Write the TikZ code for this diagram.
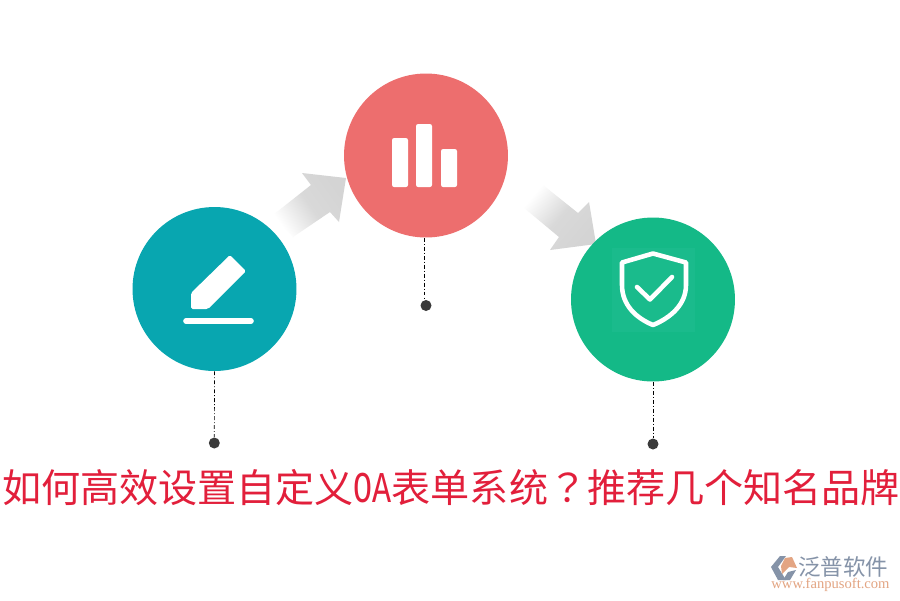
\documentclass[tikz,border=0pt]{standalone}
\usepackage{fontspec}
\setmainfont{Noto Sans CJK SC}
\newfontfamily\latinfont{Liberation Serif}
\newfontfamily\oafont[FakeStretch=0.72]{Liberation Mono}
\newfontfamily\markfont{Noto Sans CJK TC}
\definecolor{penteal}{HTML}{08A6B0}
\definecolor{barred}{HTML}{ED6E6E}
\definecolor{shieldgreen}{HTML}{14B987}
\definecolor{squaregreen}{HTML}{1ABB8C}
\definecolor{dotgrey}{HTML}{3A3A3A}
\definecolor{titlered}{HTML}{E21F3B}
\definecolor{logoblue}{HTML}{8593A8}
\definecolor{logoorange}{HTML}{E3A583}
\tikzset{
  bigcircle/.style={circle, minimum size=3.28cm, inner sep=0pt},
  enddot/.style={circle, fill=dotgrey, minimum size=0.22cm, inner sep=0pt},
  stem/.style={line width=0.4pt, dash pattern=on 2.2pt off 1.2pt on 0.5pt off 1.2pt, black},
  iconwhite/.style={fill=white, rounded corners=1pt},
}
\begin{document}
\begin{tikzpicture}[x=0.02cm, y=-0.02cm]
\useasboundingbox (0,0) rectangle (900,600);
\fill[white] (0,0) rectangle (900,600);
% grey arrows
\shade[bottom color=white, top color=black!17, middle color=black!15, shading angle=-55]
  (273,215) -- (311,185) -- (302,173) -- (346,178) -- (339,222) -- (330,212) -- (293,237) -- cycle;
\shade[bottom color=white, top color=black!17, middle color=black!15, shading angle=-130]
  (543,185) -- (578,213) -- (589,202) -- (596,244) -- (550,250) -- (559,237) -- (523,207) -- cycle;
% circles
\node[bigcircle, fill=penteal] (pen) at (214.5,289) {};
\node[bigcircle, fill=barred] (bars) at (426,155.5) {};
\node[bigcircle, fill=shieldgreen] (shield) at (653,299.5) {};
% dots
\node[enddot] (pendot) at (214.3,443) {};
\node[enddot] (barsdot) at (426,305.5) {};
\node[enddot] (shielddot) at (653,444) {};
\draw[stem] (pen.south) -- (pendot);
\draw[stem] ([xshift=-0.04cm]bars.south) -- ([xshift=-0.04cm]barsdot.north);
\draw[stem] (shield.south) -- (shielddot);
% pencil
\fill[iconwhite] (230,255) -- (246,271) -- (208,309) -- (191,309) -- (191,293) -- cycle;
\draw[white, line width=3.2pt, line cap=round] (186,321) -- (251,321);
% bar chart
\fill[white, rounded corners=1.2pt] (392,138) rectangle (408,187);
\fill[white, rounded corners=1.2pt] (416,124) rectangle (432,187);
\fill[white, rounded corners=1.2pt] (441,149) rectangle (457,187);
% shield
\fill[squaregreen] (612,248) rectangle (694.5,332);
\draw[white, line width=2.6pt, line join=round] (653,253.5) -- (686,262.5) -- (686,285)
  .. controls (686,305) and (670,318) .. (653,325)
  .. controls (636,318) and (622,305) .. (622,285) -- (622,262.5) -- cycle;
\draw[white, line width=2.6pt, line cap=round, line join=round] (637,287) -- (650,299.5) -- (672,277);
% title
\node[text=titlered, inner sep=0pt, font=\fontsize{22.25}{26}\selectfont] (title) at (451,488) {如何高效设置自定义{\oafont\fontsize{25}{26}\selectfont OA}表单系统{\markfont ？}推荐几个知名品牌};
% logo
\fill[logoblue] (780,556) -- (771,567) -- (778,580) -- (786,580) -- (778,567) -- (786,556) -- cycle;
\fill[logoorange] (785,558) -- (792,557) -- (797,568) -- (789,567) -- (782,574) -- (781,566) -- cycle;
\fill[logoblue] (796,570) -- (790,580) -- (783,580) -- (788,572) -- cycle;
\node[text=logoblue, inner sep=0pt, font=\fontsize{12.8}{14}\selectfont] (logoname) at (843,567) {泛普软件};
\node[text=logoorange, inner sep=0pt, font=\latinfont\fontsize{8.3}{9}\selectfont] (logourl) at (830.5,584.5) {www.fanpusoft.com};
\end{tikzpicture}
\end{document}
